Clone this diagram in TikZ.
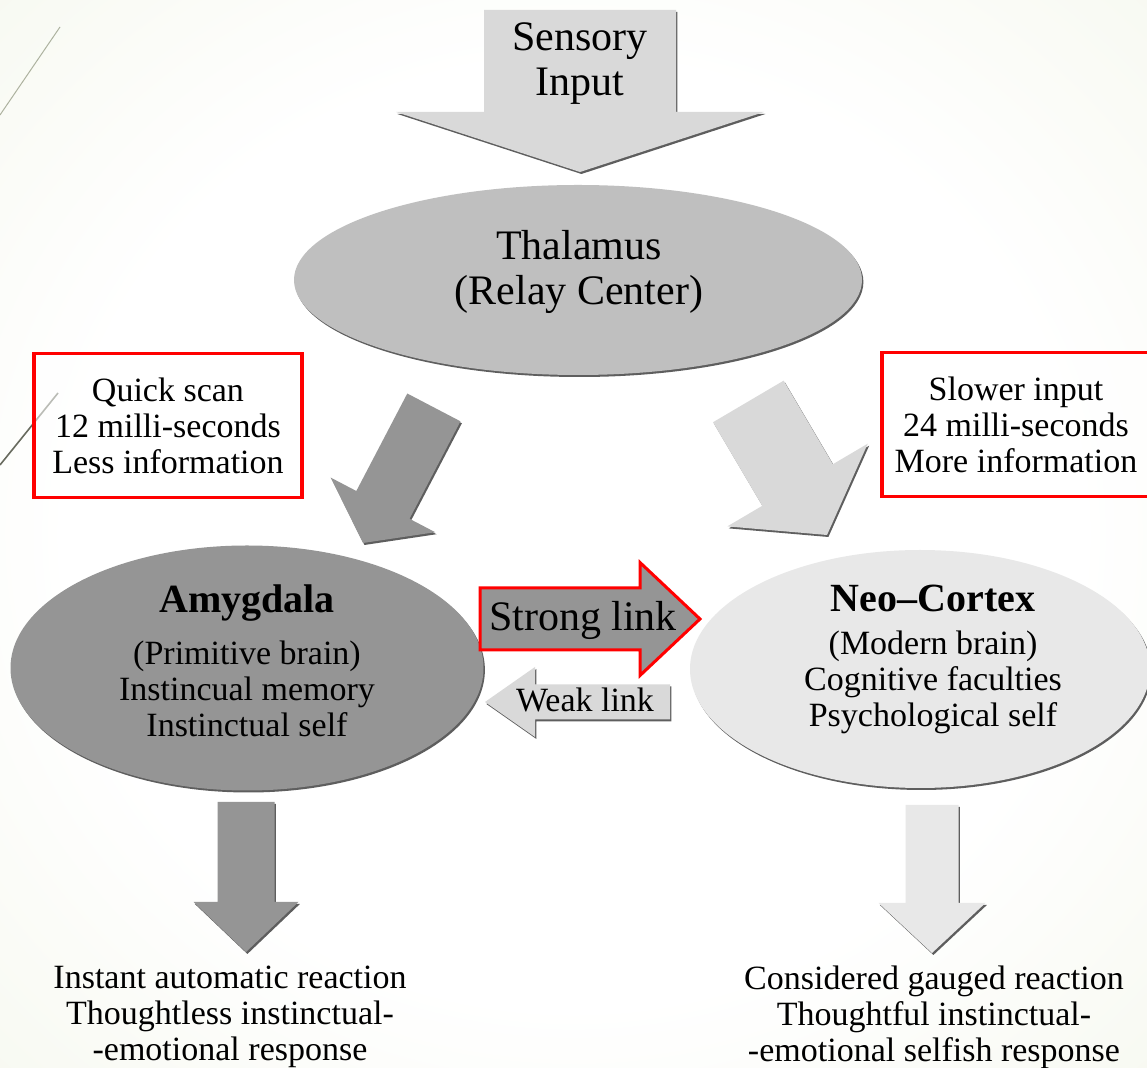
\documentclass[tikz,border=0pt]{standalone}
\usepackage{fontspec}
\setmainfont{Liberation Serif}
\usetikzlibrary{calc,shapes.geometric,shadows}

\definecolor{bgedge}{HTML}{E7EDD4}
\definecolor{bgmid}{HTML}{F1F4E6}
\definecolor{brainPale}{HTML}{D9D9D9}
\definecolor{brainLight}{HTML}{E8E8E8}
\definecolor{brainMid}{HTML}{BFBFBF}
\definecolor{brainDark}{HTML}{959595}
\definecolor{edgeshade}{HTML}{5E5E5E}

% soft backdrop glow
\pgfdeclareradialshading{backglow}{\pgfpoint{0bp}{0bp}}{%
  color(0bp)=(white); color(22bp)=(white); color(48bp)=(bgmid);
  color(72bp)=(bgedge); color(100bp)=(bgedge)}

\tikzset{
  body text/.style={font=\fontsize{17}{18}\selectfont, align=center},
  big text/.style={font=\fontsize{21}{22.5}\selectfont, align=center},
  edge shadow/.style={drop shadow={shadow xshift=0.7pt, shadow yshift=-1pt,
      opacity=1, fill=edgeshade}},
  brain/.style={ellipse, inner sep=0pt, edge shadow},
  notebox/.style={draw=red, line width=1.6pt, fill=white, fill opacity=0.55,
    text opacity=1, minimum width=134pt, minimum height=72pt, body text},
  pale arrow/.style={fill=brainPale, edge shadow},
  light arrow/.style={fill=brainLight, edge shadow},
  dark arrow/.style={fill=brainDark, edge shadow},
  strong arrow/.style={fill=brainDark, draw=red, line width=1.5pt}
}

% block arrow: style, tip, direction, length, shaft width, head width, head length
\newcommand{\BlockArrow}[7]{%
  \path[#1] (#2)
    -- ($(#2)+(#3+180:#7)+(#3+90:#6/2)$)
    -- ($(#2)+(#3+180:#7)+(#3+90:#5/2)$)
    -- ($(#2)+(#3+180:#4)+(#3+90:#5/2)$)
    -- ($(#2)+(#3+180:#4)+(#3-90:#5/2)$)
    -- ($(#2)+(#3+180:#7)+(#3-90:#5/2)$)
    -- ($(#2)+(#3+180:#7)+(#3-90:#6/2)$)
    -- cycle;}

\begin{document}
\begin{tikzpicture}[x=0.5pt, y=0.5pt]
  \useasboundingbox (0,0) rectangle (1147,-1068);
  \clip (0,0) rectangle (1147,-1068);

  % backdrop
  \shade[shading=backglow] (0,0) rectangle (1147,-1068);
  \draw[color=black!25!bgedge, line width=0.5pt] (60,-27) -- (0,-115);
  \draw[color=black!55!bgedge, line width=0.8pt] (58,-393) -- (0,-465);

  % the three brain parts
  \node[brain, fill=brainMid, minimum width=284pt, minimum height=95pt] (thalamus) at (578,-280) {};
  \node[brain, fill=brainDark, minimum width=236.5pt, minimum height=122.5pt] (amygdala) at (247,-668) {};
  \node[brain, fill=brainLight, minimum width=230pt, minimum height=119pt] (neocortex) at (920,-669) {};

  % arrow tips
  \coordinate (sensory tip) at (580,-172);
  \coordinate (quick tip) at (363,-543);
  \coordinate (slow tip) at (827,-535);
  \coordinate (strong tip) at (700,-619);
  \coordinate (weak tip) at (485,-702);
  \coordinate (instant tip) at (246,-952);
  \coordinate (considered tip) at (932,-953);

  \BlockArrow{pale arrow}{sensory tip}{-90}{162}{192}{368}{60}
  \BlockArrow{dark arrow}{quick tip}{-117.6}{153}{60}{118}{43}
  \BlockArrow{pale arrow}{slow tip}{-59.5}{155}{82}{163}{58}
  \BlockArrow{strong arrow}{strong tip}{0}{220}{62}{113}{60}
  \BlockArrow{pale arrow}{weak tip}{180}{185}{35}{70}{50}
  \BlockArrow{dark arrow}{instant tip}{-90}{150}{57}{105}{50}
  \BlockArrow{light arrow}{considered tip}{-90}{148}{53}{107}{50}

  % labels
  \node[big text] (sensory) at (580,-64) {Sensory\\Input};
  \node[big text] (relay) at (579,-272) {Thalamus\\(Relay Center)};
  \node[body text] (primitive) at (247,-661)
    {{\fontsize{20}{22}\selectfont\bfseries Amygdala}\\[8pt]
     (Primitive brain)\\Instincual memory\\Instinctual self};
  \node[body text] (modern) at (933,-659)
    {{\fontsize{20}{22}\selectfont\bfseries Neo--Cortex}\\[3.5pt]
     (Modern brain)\\Cognitive faculties\\Psychological self};
  \node[big text] (strong) at (583,-620) {Strong link};
  \node[body text] (weak) at (585,-700) {Weak link};

  % timing notes
  \node[notebox] (quick) at (168,-425.5) {Quick scan\\12 milli-seconds\\Less information};
  \node[notebox] (slower) at (1016,-424.5) {Slower input\\24 milli-seconds\\More information};

  % reactions
  \node[body text] (instant) at (230,-1017)
    {Instant automatic reaction\\Thoughtless instinctual-\\-emotional response};
  \node[body text] (considered) at (934,-1017)
    {Considered gauged reaction\\Thoughtful instinctual-\\-emotional selfish response};
\end{tikzpicture}
\end{document}
